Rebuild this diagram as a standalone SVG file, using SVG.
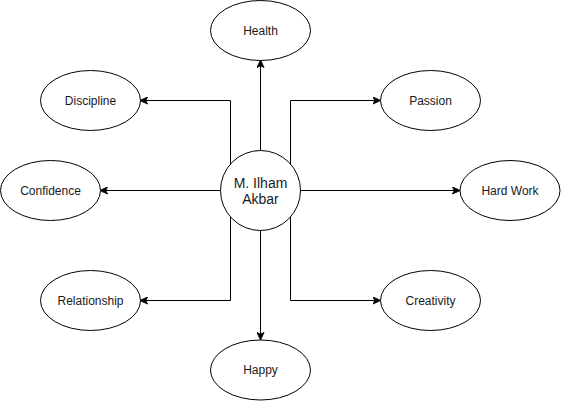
<svg xmlns="http://www.w3.org/2000/svg" width="561" height="401" viewBox="0 0 561 401">
<defs>
<marker id="arr" viewBox="0 0 10 10" refX="9" refY="5" markerWidth="8" markerHeight="8" markerUnits="userSpaceOnUse" orient="auto">
<path d="M0,0.5 L10,5 L0,9.5 L2.5,5 Z" fill="#000" stroke="#000" stroke-width="1"/>
</marker>
<style>
.n{fill:#fff;stroke:#000;stroke-width:1}
.t{font-family:"Liberation Sans",Arial,sans-serif;font-size:12px;fill:#1a1a1a;text-anchor:middle}
.c{font-size:14px}
.e{fill:none;stroke:#000;stroke-width:1;marker-end:url(#arr)}
</style>
</defs>
<rect width="561" height="401" fill="#fff"/>
<g id="edges">
<path class="e" d="M260.5,150 V60.5"/>
<path class="e" d="M260.5,230 V339.5"/>
<path class="e" d="M220,190.5 H100.5"/>
<path class="e" d="M300,190.5 H459.5"/>
<path class="e" d="M230.5,164 V100.5 H140.5"/>
<path class="e" d="M230.5,217 V300.5 H140.5"/>
<path class="e" d="M290.5,164 V100.5 H380"/>
<path class="e" d="M290.5,217 V300.5 H380"/>
</g>
<g id="center"><circle class="n" cx="260.5" cy="190.5" r="40"/><text class="t c" x="260.5" y="188">M. Ilham</text><text class="t c" x="260.5" y="204">Akbar</text></g>
<g id="health"><ellipse class="n" cx="260.5" cy="30.5" rx="50" ry="30"/><text class="t" x="260.5" y="34.5">Health</text></g>
<g id="happy"><ellipse class="n" cx="260.5" cy="370" rx="50" ry="30"/><text class="t" x="260.5" y="374">Happy</text></g>
<g id="discipline"><ellipse class="n" cx="90.5" cy="100.5" rx="50" ry="30"/><text class="t" x="90.5" y="104.5">Discipline</text></g>
<g id="confidence"><ellipse class="n" cx="50.5" cy="190.5" rx="50" ry="30"/><text class="t" x="50.5" y="194.5">Confidence</text></g>
<g id="relationship"><ellipse class="n" cx="90.5" cy="300.5" rx="50" ry="30"/><text class="t" x="90.5" y="304.5">Relationship</text></g>
<g id="passion"><ellipse class="n" cx="430.5" cy="100.5" rx="50" ry="30"/><text class="t" x="430.5" y="104.5">Passion</text></g>
<g id="hardwork"><ellipse class="n" cx="510" cy="190.5" rx="50" ry="30"/><text class="t" x="510" y="194.5">Hard Work</text></g>
<g id="creativity"><ellipse class="n" cx="430.5" cy="300.5" rx="50" ry="30"/><text class="t" x="430.5" y="304.5">Creativity</text></g>
</svg>
